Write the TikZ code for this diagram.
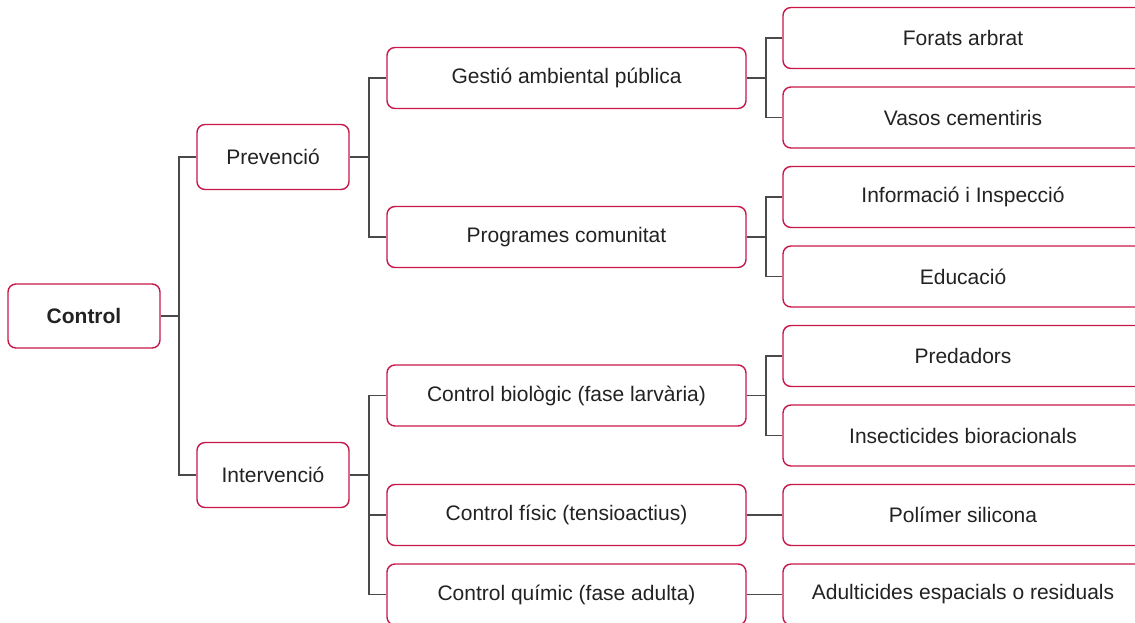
\documentclass[tikz,border=0pt]{standalone}
\usepackage{fontspec}
\setmainfont{Liberation Sans}
\usepackage{tikz}
\definecolor{boxred}{HTML}{C8184A}
\definecolor{linegray}{HTML}{4A4A4A}
\definecolor{textgray}{HTML}{222222}
\tikzset{x=1pt, y=-1pt,
  tree box/.style={draw=boxred, line width=1.4pt, rounded corners=8pt, fill=white,
        text=textgray, font=\fontsize{21}{24}\selectfont, inner sep=0pt},
  root box/.style={tree box, minimum width=152pt, minimum height=64pt, font=\fontsize{21}{24}\selectfont\bfseries},
  first box/.style={tree box, minimum width=152pt, minimum height=65pt},
  second box/.style={tree box, minimum width=359pt, minimum height=61pt},
  third box/.style={tree box, minimum width=360pt, minimum height=61pt},
  branch/.style={draw=linegray, line width=1.6pt}
}
\begin{document}
\begin{tikzpicture}
\useasboundingbox (0,0) rectangle (1135,622);
\clip (0,0) rectangle (1135,622);
% root and first level
\node[root box] (Control) at (84,316) {Control};
\node[first box] (Prev) at (273,157) {Prevenció};
\node[first box] (Interv) at (273,475) {Intervenció};
% second level
\node[second box] (Gestio) at (566.5,78) {Gestió ambiental pública};
\node[second box] (Program) at (566.5,237) {Programes comunitat};
\node[second box] (Biol) at (566.5,395.5) {Control biològic (fase larvària)};
\node[second box] (Fisic) at (566.5,515) {Control físic (tensioactius)};
\node[second box] (Quim) at (566.5,594.5) {Control químic (fase adulta)};
% third level
\node[third box] (Forats) at (963,38) {Forats arbrat};
\node[third box] (Vasos) at (963,117.5) {Vasos cementiris};
\node[third box] (Info) at (963,197) {Informació i Inspecció};
\node[third box] (Educ) at (963,276.5) {Educació};
\node[third box] (Pred) at (963,356) {Predadors};
\node[third box] (Insect) at (963,435.5) {Insecticides bioracionals};
\node[third box] (Polimer) at (963,515) {Polímer silicona};
\node[third box] (Adult) at (963,594.5) {Adulticides espacials o residuals};
% connectors
\foreach \child in {Prev,Interv}
  \draw[branch] (Control.east) -- ++(18,0) |- (\child.west);
\foreach \child in {Gestio,Program}
  \draw[branch] (Prev.east) -- ++(19,0) |- (\child.west);
\foreach \child in {Biol,Fisic,Quim}
  \draw[branch] (Interv.east) -- ++(19,0) |- (\child.west);
\foreach \child in {Forats,Vasos}
  \draw[branch] (Gestio.east) -- ++(19,0) |- (\child.west);
\foreach \child in {Info,Educ}
  \draw[branch] (Program.east) -- ++(19,0) |- (\child.west);
\foreach \child in {Pred,Insect}
  \draw[branch] (Biol.east) -- ++(19,0) |- (\child.west);
\draw[branch] (Fisic) -- (Polimer);
\draw[branch] (Quim) -- (Adult);
\end{tikzpicture}
\end{document}
